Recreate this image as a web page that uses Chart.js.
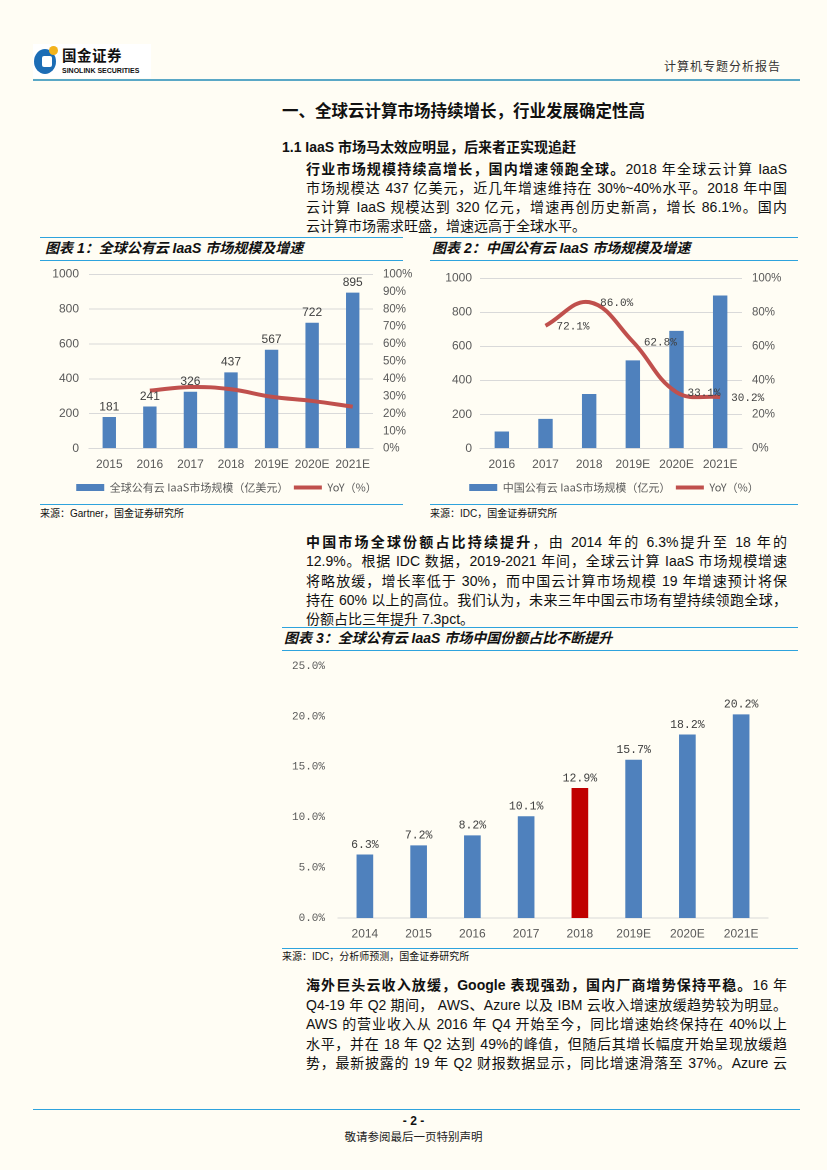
<!DOCTYPE html>
<html>
<head>
<meta charset="utf-8">
<script src="https://cdn.jsdelivr.net/npm/chart.js@4"></script>
<style>
  body { margin: 0; background: #fffdf4; }
  #page { position: relative; width: 827px; height: 1170px; overflow: hidden;
          font-family: "Liberation Sans", "Noto Sans CJK SC", sans-serif; color: #111; }
  #page div, #page canvas { position: absolute; }
  .rule { height: 0; border-top: 1.5px solid #2ea3dd; }
  .ln { left: 306px; width: 481px; font-size: 14px; line-height: 17px; height: 17px;
        text-align: justify; text-align-last: justify; white-space: normal; }
  .ln.end { text-align-last: left; }
  .ttl { font-size: 14px; font-weight: bold; font-style: italic; line-height: 18px; }
  .src { font-size: 10px; line-height: 12px; }
  b { font-weight: bold; }
</style>
</head>
<body>
<div id="page">
  <!-- header -->
  <div style="left:33px;top:44px;width:118px;height:34px;background:#fff"></div>
  <div style="left:34px;top:49px;width:22px;height:25px;border-radius:50%;background:#1c6db5"></div>
  <div style="left:42px;top:56px;width:10px;height:11px;background:#fff;border-radius:2px"></div>
  <div style="left:49px;top:46px;width:9px;height:9px;border-radius:50%;background:#f3b31c"></div>
  <div style="left:62px;top:47px;font-size:14.5px;font-weight:bold;line-height:18px;letter-spacing:0.5px">国金证券</div>
  <div style="left:62px;top:66px;font-size:7px;font-weight:bold;line-height:9px">SINOLINK SECURITIES</div>
  <div style="left:664px;top:60px;font-size:12px;line-height:14px;color:#333;letter-spacing:1px">计算机专题分析报告</div>
  <div style="left:33px;top:79px;width:767px;height:0;border-top:2px solid #5aa8c6"></div>

  <!-- headings -->
  <div style="left:282px;top:101px;font-size:16.5px;font-weight:bold;line-height:20px">一、全球云计算市场持续增长，行业发展确定性高</div>
  <div style="left:282px;top:138px;font-size:14px;font-weight:bold;line-height:18px">1.1 IaaS 市场马太效应明显，后来者正实现追赶</div>

  <div class="ln" style="top:161px"><b>行业市场规模持续高增长，国内增速领跑全球。</b>2018 年全球云计算 IaaS</div>
  <div class="ln" style="top:180px">市场规模达 437 亿美元，近几年增速维持在 30%~40%水平。2018 年中国</div>
  <div class="ln" style="top:199px">云计算 IaaS 规模达到 320 亿元，增速再创历史新高，增长 86.1%。国内</div>
  <div class="ln end" style="top:218px">云计算市场需求旺盛，增速远高于全球水平。</div>

  <!-- chart 1 frame -->
  <div class="rule" style="left:40px;top:237px;width:363px"></div>
  <div class="ttl" style="left:45px;top:239px">图表 1：全球公有云 IaaS 市场规模及增速</div>
  <div class="rule" style="left:40px;top:260px;width:363px"></div>
  <canvas id="c1" style="left:40px;top:263px;width:373px;height:240px"></canvas>
  <div class="rule" style="left:40px;top:504px;width:363px"></div>
  <div class="src" style="left:40px;top:508px">来源：Gartner，国金证券研究所</div>

  <!-- chart 2 frame -->
  <div class="rule" style="left:430px;top:237px;width:368px"></div>
  <div class="ttl" style="left:432px;top:239px">图表 2：中国公有云 IaaS 市场规模及增速</div>
  <div class="rule" style="left:430px;top:260px;width:368px"></div>
  <canvas id="c2" style="left:430px;top:263px;width:368px;height:240px"></canvas>
  <div class="rule" style="left:430px;top:504px;width:368px"></div>
  <div class="src" style="left:430px;top:508px">来源：IDC，国金证券研究所</div>

  <div class="ln" style="top:534px"><b>中国市场全球份额占比持续提升</b>，由 2014 年的 6.3%提升至 18 年的</div>
  <div class="ln" style="top:553px">12.9%。根据 IDC 数据，2019-2021 年间，全球云计算 IaaS 市场规模增速</div>
  <div class="ln" style="top:572.5px">将略放缓，增长率低于 30%，而中国云计算市场规模 19 年增速预计将保</div>
  <div class="ln" style="top:592px">持在 60% 以上的高位。我们认为，未来三年中国云市场有望持续领跑全球，</div>
  <div class="ln end" style="top:611px">份额占比三年提升 7.3pct。</div>

  <!-- chart 3 frame -->
  <div class="rule" style="left:282px;top:627px;width:516px"></div>
  <div class="ttl" style="left:284px;top:629px">图表 3：全球公有云 IaaS 市场中国份额占比不断提升</div>
  <div class="rule" style="left:282px;top:650px;width:516px"></div>
  <canvas id="c3" style="left:282px;top:652px;width:516px;height:294px"></canvas>
  <div class="rule" style="left:282px;top:948px;width:516px"></div>
  <div class="src" style="left:282px;top:951px">来源：IDC，分析师预测，国金证券研究所</div>

  <div class="ln" style="top:977px"><b>海外巨头云收入放缓，Google 表现强劲，国内厂商增势保持平稳。</b>16 年</div>
  <div class="ln" style="top:996.5px">Q4-19 年 Q2 期间， AWS、Azure 以及 IBM 云收入增速放缓趋势较为明显。</div>
  <div class="ln" style="top:1016px">AWS 的营业收入从 2016 年 Q4 开始至今，同比增速始终保持在 40%以上</div>
  <div class="ln" style="top:1035.5px">水平，并在 18 年 Q2 达到 49%的峰值，但随后其增长幅度开始呈现放缓趋</div>
  <div class="ln" style="top:1055px">势，最新披露的 19 年 Q2 财报数据显示，同比增速滑落至 37%。Azure 云</div>

  <!-- footer -->
  <div style="left:33px;top:1109px;width:767px;height:0;border-top:1.5px solid #2ea3dd"></div>
  <div style="left:0;top:1114px;width:827px;text-align:center;font-size:12px;font-weight:bold;line-height:14px">- 2 -</div>
  <div style="left:0;top:1130px;width:827px;text-align:center;font-size:11.5px;line-height:14px;color:#222">敬请参阅最后一页特别声明</div>
</div>

<script>
// chart 1: 全球公有云 IaaS
const years1 = ['2015', '2016', '2017', '2018', '2019E', '2020E', '2021E'];
const size1 = [181, 241, 326, 437, 567, 722, 895];
const yoy1 = [null, 33.2, 35.3, 34.0, 29.7, 27.3, 24.0];
const leftTicks = [0, 200, 400, 600, 800, 1000];
const rightTicks1 = [0, 10, 20, 30, 40, 50, 60, 70, 80, 90, 100];

// chart 2: 中国公有云 IaaS
const years2 = ['2016', '2017', '2018', '2019E', '2020E', '2021E'];
const size2 = [100, 174, 320, 518, 691, 899];
const yoy2 = [null, 72.1, 86.0, 62.8, 33.1, 30.2];
const rightTicks2 = [0, 20, 40, 60, 80, 100];

// chart 3: 中国份额占比
const years3 = ['2014', '2015', '2016', '2017', '2018', '2019E', '2020E', '2021E'];
const share3 = [6.3, 7.2, 8.2, 10.1, 12.9, 15.7, 18.2, 20.2];
const ticks3 = [0, 5, 10, 15, 20, 25];

const BLUE = '#4f81bd';
const RED = '#c0504d';
const GREY = '#595959';
const SANS = '"Liberation Sans", "Noto Sans CJK SC", sans-serif';
const MONO = '"Liberation Mono", "DejaVu Sans Mono", monospace';

Chart.defaults.font.family = SANS;
Chart.defaults.color = GREY;
Chart.defaults.animation = false;
Chart.defaults.devicePixelRatio = 2;

// draws the value labels (no datalabels plugin offline)
const valueLabels = {
  id: 'valueLabels',
  afterDatasetsDraw(chart) {
    const ctx = chart.ctx;
    chart.data.datasets.forEach((ds, i) => {
      if (!ds.label_fmt) return;
      const meta = chart.getDatasetMeta(i);
      meta.data.forEach((el, j) => {
        const v = ds.data[j];
        if (v == null) return;
        ctx.save();
        ctx.font = ds.label_font;
        ctx.fillStyle = '#404040';
        if (ds.label_pos === 'right') {
          ctx.textAlign = 'left';
          ctx.textBaseline = 'middle';
          ctx.fillText(ds.label_fmt(v), el.x + 11, el.y + 1);
        } else {
          ctx.textAlign = 'center';
          ctx.textBaseline = 'bottom';
          ctx.fillText(ds.label_fmt(v), el.x, el.y - 4);
        }
        ctx.restore();
      });
    });
  }
};

function fixTicks(list) {
  return s => { s.ticks = list.map(v => ({ value: v })); };
}

function legendItems(barText) {
  return function () {
    return [
      { text: barText, fillStyle: BLUE, strokeStyle: BLUE, lineWidth: 0, pointStyle: 'rect', fontColor: GREY, datasetIndex: 0 },
      { text: 'YoY（%）', fillStyle: RED, strokeStyle: RED, lineWidth: 4, pointStyle: 'line', fontColor: GREY, datasetIndex: 1 }
    ];
  };
}

function comboChart(id, labels, bars, line, legendText, rightTicks, sizes) {
  return new Chart(document.getElementById(id), {
    type: 'bar',
    data: {
      labels: labels,
      datasets: [
        {
          type: 'bar', data: bars, backgroundColor: BLUE, yAxisID: 'y', order: 1,
          categoryPercentage: 1, barPercentage: 0.33,
          label_fmt: sizes.barLabels ? (v => String(v)) : null,
          label_font: '12px ' + SANS
        },
        {
          type: 'line', data: line, borderColor: RED, borderWidth: 4, yAxisID: 'y1', order: 0,
          pointRadius: 0, tension: 0.4, fill: false,
          label_fmt: sizes.lineLabels ? (v => v.toFixed(1) + '%') : null,
          label_font: '11px ' + MONO, label_pos: 'right'
        }
      ]
    },
    options: {
      responsive: false,
      layout: { padding: { top: sizes.top, bottom: 0, left: 0, right: 0 } },
      plugins: {
        tooltip: { enabled: false },
        legend: {
          position: 'bottom',
          labels: {
            usePointStyle: true, pointStyleWidth: 28, boxHeight: 7,
            font: { size: 11, family: '"Noto Sans CJK SC", sans-serif' },
            padding: 5.5, color: GREY,
            generateLabels: legendItems(legendText)
          }
        }
      },
      scales: {
        x: {
          grid: { display: false, drawTicks: false },
          border: { display: true, color: '#d9d9d9' },
          ticks: { padding: 9, font: { size: 12 }, color: GREY, maxRotation: 0, minRotation: 0, autoSkip: false },
          afterFit(s) { s.height = 28; }
        },
        y: {
          position: 'left', min: 0, max: 1000,
          afterBuildTicks: fixTicks(leftTicks),
          grid: { color: '#d9d9d9', drawTicks: false },
          border: { display: false },
          ticks: { padding: sizes.lpad, font: { size: 12 }, color: GREY, callback: v => String(v) },
          afterFit(s) { s.width = sizes.left; s.paddingTop = 6; s.paddingBottom = 6; }
        },
        y1: {
          position: 'right', min: 0, max: 100,
          afterBuildTicks: fixTicks(rightTicks),
          ticks: { padding: 10, font: { size: 11.5 }, color: GREY, autoSkip: false, callback: v => v + '%' },
          grid: { display: false, drawTicks: false },
          border: { display: false },
          afterFit(s) { s.width = sizes.right; s.paddingTop = 6; s.paddingBottom = 6; }
        }
      }
    },
    plugins: [valueLabels]
  });
}

comboChart('c1', years1, size1, yoy1, '全球公有云 IaaS市场规模（亿美元）', rightTicks1,
  { top: 11.3, left: 49, right: 40, lpad: 10, barLabels: true, lineLabels: false });
comboChart('c2', years2, size2, yoy2, '中国公有云 IaaS市场规模（亿元）', rightTicks2,
  { top: 15.3, left: 50, right: 56, lpad: 8, barLabels: false, lineLabels: true });

new Chart(document.getElementById('c3'), {
  type: 'bar',
  data: {
    labels: years3,
    datasets: [{
      data: share3,
      backgroundColor: years3.map(y => (y === '2018' ? '#c00000' : BLUE)),
      categoryPercentage: 1, barPercentage: 0.31,
      label_fmt: v => v.toFixed(1) + '%',
      label_font: '11.5px ' + MONO
    }]
  },
  options: {
    responsive: false,
    layout: { padding: { top: 14, bottom: 2, left: 0, right: 30 } },
    plugins: { legend: { display: false }, tooltip: { enabled: false } },
    scales: {
      x: {
        grid: { display: false, drawTicks: false },
        border: { display: true, color: '#d9d9d9' },
        ticks: { padding: 9, font: { size: 12 }, color: GREY, maxRotation: 0, autoSkip: false },
        afterFit(s) { s.height = 26; }
      },
      y: {
        min: 0, max: 25,
        afterBuildTicks: fixTicks(ticks3),
        ticks: { padding: 13, font: { size: 11, family: MONO }, color: GREY, callback: v => v.toFixed(1) + '%' },
        grid: { display: false, drawTicks: false },
        border: { display: false },
        afterFit(s) { s.width = 56; s.paddingTop = 6; s.paddingBottom = 6; }
      }
    }
  },
  plugins: [valueLabels]
});
</script>
</body>
</html>
